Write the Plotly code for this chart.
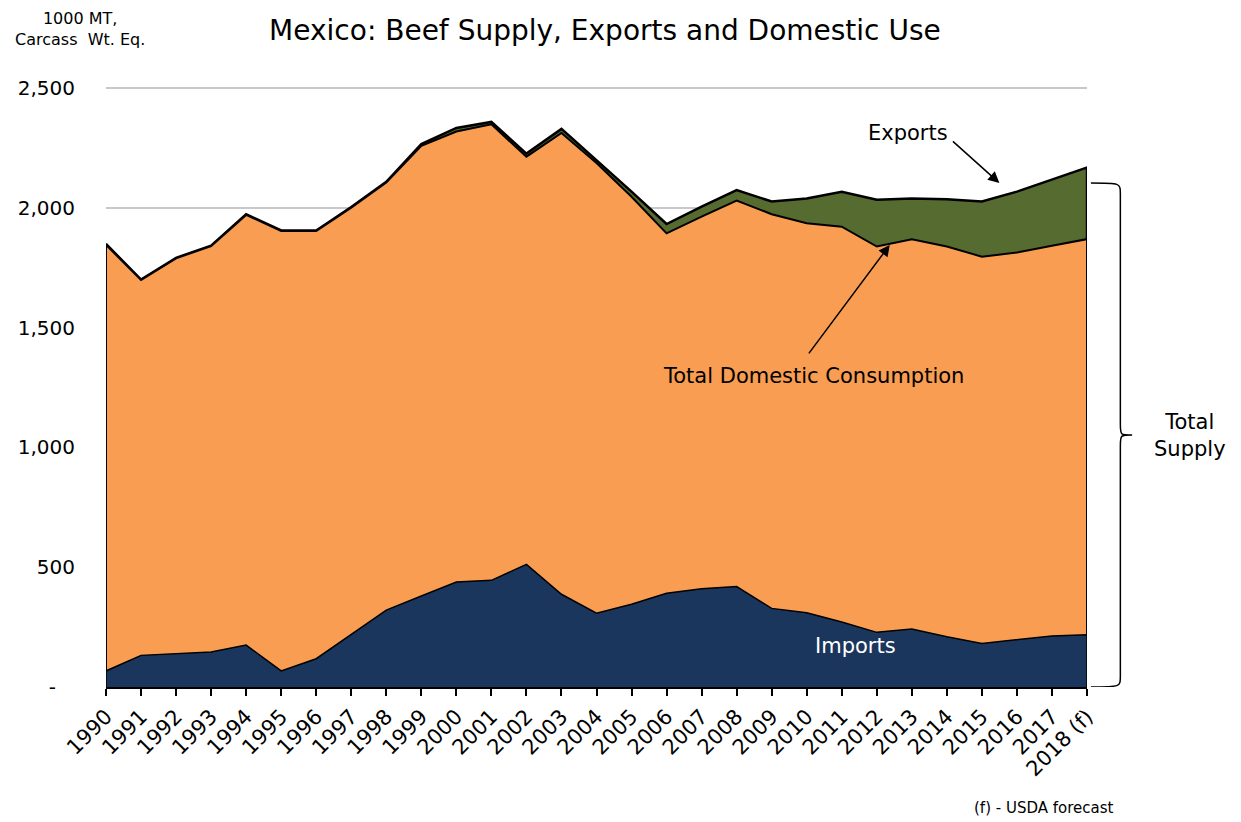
"""Mexico beef supply, exports and domestic use, 1990-2018 (f)."""

import plotly.graph_objects as go

years = [str(y) for y in range(1990, 2018)] + ["2018 (f)"]

# 1000 MT carcass weight equivalent
domestic = [1845, 1699, 1789, 1840, 1970, 1903, 1903, 2000, 2105, 2258,
            2318, 2348, 2213, 2312, 2187, 2046, 1893, 1963, 2030, 1973,
            1935, 1921, 1838, 1868, 1838, 1796, 1813, 1841, 1869]
exports = [4, 1, 2, 2, 3, 2, 2, 3, 3, 8,
           15, 10, 13, 17, 13, 21, 39, 42, 44, 53,
           104, 146, 195, 171, 197, 230, 254, 275, 299]
imports = [67, 132, 138, 146, 175, 67, 118, 220, 321, 380,
           438, 445, 512, 387, 308, 345, 391, 410, 419, 328,
           310, 271, 228, 242, 210, 182, 199, 213, 218]

ytick_vals = [0, 500, 1000, 1500, 2000, 2500]
ytick_text = ["-\u00a0\u00a0\u00a0", "500", "1,000", "1,500", "2,000", "2,500"]

FONT = "DejaVu Sans"
ORANGE = "#F89D52"
NAVY = "#1B365D"
GREEN = "#566B30"

supply = [d + e for d, e in zip(domestic, exports)]
idx = list(range(len(years)))
last = idx[-1]


def closed(values):
    # polygon down to the baseline so the outline includes the side edges
    return [0] + idx + [last], [0] + values + [0]


fig = go.Figure()
for vals, colour, width in [(supply, GREEN, 2.5), (domestic, ORANGE, 2), (imports, NAVY, 1.5)]:
    xs, ys = closed(vals)
    fig.add_trace(go.Scatter(
        x=xs, y=ys, mode="lines", fill="toself", fillcolor=colour,
        line=dict(color="black", width=width), hoverinfo="skip", showlegend=False,
    ))

# Curly brace for "Total Supply"
top = supply[-1] * 0.97
mid = top / 2
r = 45
xa, xb, xc = 1.004, 1.034, 1.046
brace = (
    f"M {xa},{top} C {xb},{top} {xb},{top} {xb},{top - r} "
    f"L {xb},{mid + r} C {xb},{mid} {xb},{mid} {xc},{mid} "
    f"C {xb},{mid} {xb},{mid} {xb},{mid - r} "
    f"L {xb},{r} C {xb},0 {xb},0 {xa},0"
)
fig.add_shape(type="path", path=brace, xref="paper", yref="y",
              line=dict(color="black", width=1.5))

annots = [
    dict(x=22.89, y=2312, text="Exports", showarrow=False,
         font=dict(size=21, color="black")),
    dict(x=25.5, y=2103, ax=-48, ay=-43, text="", showarrow=True,
         arrowhead=2, arrowsize=1.5, arrowwidth=1.5, arrowcolor="black"),
    dict(x=20.18, y=1298, text="Total Domestic Consumption", showarrow=False,
         font=dict(size=21, color="black")),
    dict(x=22.37, y=1845, ax=-82, ay=110, text="", showarrow=True,
         arrowhead=2, arrowsize=1.5, arrowwidth=1.5, arrowcolor="black"),
    dict(x=21.38, y=171, text="Imports", showarrow=False,
         font=dict(size=21, color="white")),
    dict(x=1.105, y=mid, xref="paper", yref="y", text="Total<br>Supply",
         xanchor="center", yanchor="middle",
         showarrow=False, font=dict(size=21, color="black")),
    dict(x=-0.0265, y=1.095, xref="paper", yref="paper",
         text="1000 MT,<br>Carcass  Wt. Eq.", xanchor="center", yanchor="middle",
         showarrow=False, font=dict(size=16, color="black")),
    dict(x=0.956, y=-0.202, xref="paper", yref="paper",
         text="(f) - USDA forecast", xanchor="center", yanchor="middle",
         showarrow=False, font=dict(size=15, color="black")),
]
for a in annots:
    fig.add_annotation(**a)

# page body adds an 8px offset, so margins are shifted to compensate
fig.update_layout(
    width=1241, height=822,
    margin=dict(l=98, r=162, t=78, b=143, autoexpand=False),
    paper_bgcolor="white", plot_bgcolor="white",
    font=dict(family=FONT, color="black"),
    title=dict(text="Mexico: Beef Supply, Exports and Domestic Use",
               x=0.481, xanchor="center", y=0.973, yanchor="middle",
               font=dict(size=28, color="black")),
    xaxis=dict(
        range=[0, last], tickmode="array", tickvals=idx, ticktext=years,
        tickangle=-45, tickfont=dict(size=21), showgrid=False, zeroline=False,
        showline=True, linecolor="black", linewidth=2,
        ticks="outside", ticklen=7, tickwidth=1.5, tickcolor="black",
    ),
    yaxis=dict(
        range=[0, 2508], tickmode="array", tickvals=ytick_vals, ticktext=ytick_text,
        tickfont=dict(size=20), showgrid=True, gridcolor="#C8C8C8", gridwidth=1.5,
        zeroline=False, showline=False, ticks="", ticklabelstandoff=30,
    ),
)

fig.write_html("out.html")
